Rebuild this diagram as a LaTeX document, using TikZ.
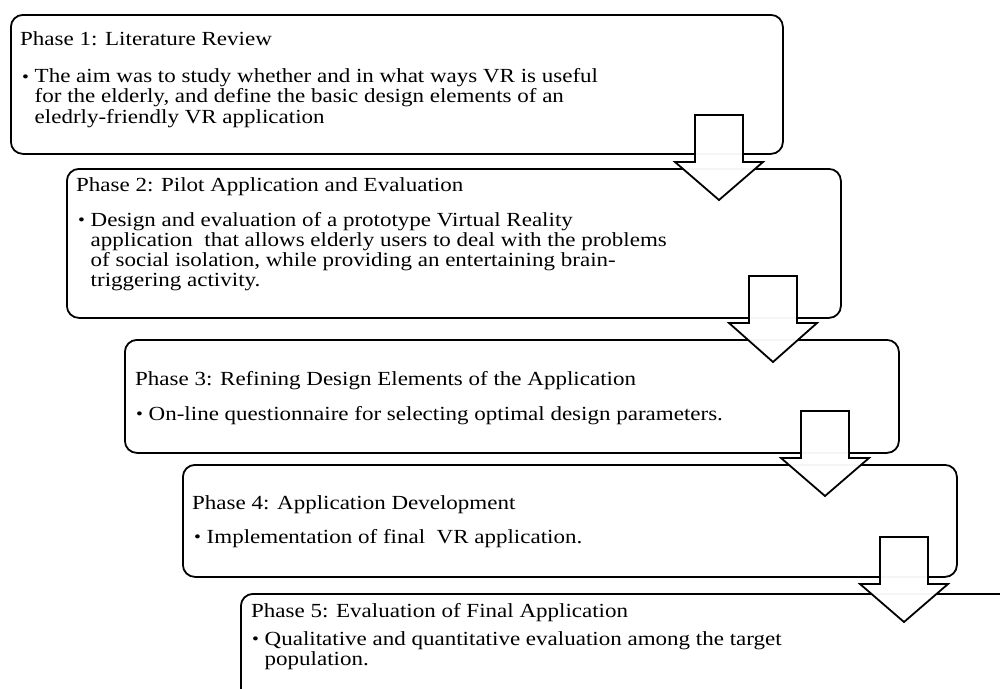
\documentclass[tikz,border=0pt]{standalone}
\usepackage{fontspec}
\setmainfont{Liberation Serif}[FakeStretch=1.15]
\newcommand\bul{\makebox[12.5pt][l]{\raisebox{0.5pt}{\scalebox{0.85}{\textbullet}}}}
\newcommand\blockarrow[4]{%
  \draw[barrow] ({#1-24},#2) -- ({#1+24},#2) -- ({#1+24},#3) -- ({#1+44},#3)
    -- (#1,#4) -- ({#1-44},#3) -- ({#1-24},#3) -- cycle;}
\tikzset{
  phasebox/.style={draw, line width=1.8pt, rounded corners=12pt, anchor=north west,
    inner sep=0pt, fill=white},
  barrow/.style={draw, line width=1.8pt, fill=white, fill opacity=0.96, line join=miter},
  txt/.style={anchor=base west, inner sep=0pt, font=\fontsize{20}{20.2}\selectfont}
}
\begin{document}
\begin{tikzpicture}[x=1pt, y=-1pt]
\useasboundingbox (0,0) rectangle (1000,688);
\clip (0,0) rectangle (1000,688);
% boxes
\node[phasebox, minimum width=772pt, minimum height=139pt] (b1) at (10,14) {};
\node[phasebox, minimum width=774pt, minimum height=149pt] (b2) at (66,168) {};
\node[phasebox, minimum width=774pt, minimum height=113pt] (b3) at (124,339) {};
\node[phasebox, minimum width=774pt, minimum height=112pt] (b4) at (182,464) {};
\node[phasebox, minimum width=774pt, minimum height=112pt] (b5) at (240,593) {};
% texts
\node[txt] (t1) at (20,45.5) {Phase 1: Literature Review};
\node[txt] (t1b) at (22,82.7) {\begin{tabular}[t]{@{}l@{}l@{}}\bul&The aim was to study whether and in what ways VR is useful\\
 &for the elderly, and define the basic design elements of an\\
 &eledrly-friendly VR application\end{tabular}};
\node[txt] (t2) at (76,191) {Phase 2: Pilot Application and Evaluation};
\node[txt] (t2b) at (78,226) {\begin{tabular}[t]{@{}l@{}l@{}}\bul&Design and evaluation of a prototype Virtual Reality\\
 &application~ that allows elderly users to deal with the problems\\
 &of social isolation, while providing an entertaining brain-\\
 &triggering activity.\end{tabular}};
\node[txt] (t3) at (135,385) {Phase 3: Refining Design Elements of the Application};
\node[txt] (t3b) at (136,420) {\begin{tabular}[t]{@{}l@{}l@{}}\bul&On-line questionnaire for selecting optimal design parameters.\end{tabular}};
\node[txt] (t4) at (192,509) {Phase 4: Application Development};
\node[txt] (t4b) at (194,543) {\begin{tabular}[t]{@{}l@{}l@{}}\bul&Implementation of final~ VR application.\end{tabular}};
\node[txt] (t5) at (251,617) {Phase 5: Evaluation of Final Application};
\node[txt] (t5b) at (252,645) {\begin{tabular}[t]{@{}l@{}l@{}}\bul&Qualitative and quantitative evaluation among the target\\
 &population.\end{tabular}};
% block arrows
\blockarrow{719}{115}{162}{200}
\blockarrow{773}{276}{323}{362}
\blockarrow{825}{411}{458}{496}
\blockarrow{904}{537}{584}{622}
\end{tikzpicture}
\end{document}
